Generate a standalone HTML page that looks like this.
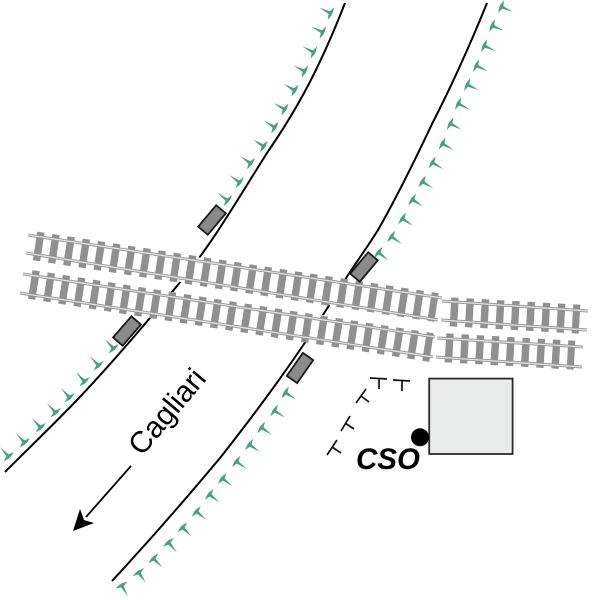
<!DOCTYPE html>
<html><head><meta charset="utf-8"><style>html,body{margin:0;padding:0;background:#fff}svg{display:block}</style></head><body>
<svg xmlns="http://www.w3.org/2000/svg" width="600" height="600" viewBox="0 0 600 600">
<defs><path id="t" fill="#46a283" d="M1,-7L2.4,-1.4L2.4,1.4L1,7L-0.8,1.5L-12,0L-0.8,-1.5Z"/></defs>
<rect width="600" height="600" fill="#fff"/>
<g fill="none" stroke="#000" stroke-width="2">
<path d="M345 3C322 62 300 105 269 150C240 195 215 240 182 280C150 318 115 360 78 399C55 423 30 447 5 472"/>
<path d="M487 3C470 45 452 85 432 124C415 160 398 195 378 230C368 246 358 260 348 275C335 296 320 320 308 338C280 380 250 420 220 458C185 500 150 540 112 581"/>
</g>
<g stroke="#fff" stroke-width="27" fill="none">
<line x1="35" y1="246" x2="440" y2="308"/>
<line x1="30" y1="284" x2="435" y2="346"/>
</g>
<g stroke="#909090" stroke-width="29" stroke-dasharray="7.4 7.95" fill="none">
<line x1="35.04" y1="245.97" x2="436.46" y2="307.53"/>
<line x1="30.24" y1="284.46" x2="431.46" y2="347.54"/>
<line x1="450.5" y1="311.8" x2="579.5" y2="319.2" stroke-dasharray="7.4 7.87"/>
<line x1="445.5" y1="347.8" x2="574.5" y2="355.2" stroke-dasharray="7.4 7.87"/>
</g>
<g stroke="#939393" stroke-width="3" fill="none">
<path d="M28 235L442 298M26 253L438 320M23 274L435 337M20 293L433 357M442 301L588 311M441 320L587 330M437 338L583 347M436 357L582 367"/>
</g>
<g stroke="#e2e2e2" stroke-width="1.3" fill="none">
<path d="M28 235L442 298M26 253L438 320M23 274L435 337M20 293L433 357M442 301L588 311M441 320L587 330M437 338L583 347M436 357L582 367"/>
</g>
<g fill="#8a8a8a" stroke="#1a1a1a" stroke-width="1.8">
<rect x="-14" y="-6.3" width="28" height="12.6" transform="translate(212 220) rotate(-50)"/>
<rect x="-14" y="-6.3" width="28" height="12.6" transform="translate(364 267) rotate(-50)"/>
<rect x="-14" y="-6.3" width="28" height="12.6" transform="translate(127 331) rotate(-49)"/>
<rect x="-14" y="-6.3" width="28" height="12.6" transform="translate(300 368) rotate(-55)"/>
</g>
<use href="#t" transform="translate(330 13) rotate(27)"/>
<use href="#t" transform="translate(322 32) rotate(27)"/>
<use href="#t" transform="translate(313 52) rotate(28)"/>
<use href="#t" transform="translate(304 71) rotate(28)"/>
<use href="#t" transform="translate(294 90) rotate(30)"/>
<use href="#t" transform="translate(284 109) rotate(30)"/>
<use href="#t" transform="translate(274 127) rotate(32)"/>
<use href="#t" transform="translate(263 146) rotate(33)"/>
<use href="#t" transform="translate(250 163) rotate(35)"/>
<use href="#t" transform="translate(239 182) rotate(36)"/>
<use href="#t" transform="translate(227 200) rotate(37)"/>
<use href="#t" transform="translate(113 348) rotate(48)"/>
<use href="#t" transform="translate(98 365) rotate(48)"/>
<use href="#t" transform="translate(84 381) rotate(48)"/>
<use href="#t" transform="translate(69 397) rotate(48)"/>
<use href="#t" transform="translate(55 412) rotate(48)"/>
<use href="#t" transform="translate(40 427) rotate(48)"/>
<use href="#t" transform="translate(24 442) rotate(48)"/>
<use href="#t" transform="translate(8 456) rotate(48)"/>
<use href="#t" transform="translate(502 7) rotate(204)"/>
<use href="#t" transform="translate(493 26) rotate(204)"/>
<use href="#t" transform="translate(485 46) rotate(205)"/>
<use href="#t" transform="translate(477 66) rotate(205)"/>
<use href="#t" transform="translate(468 85) rotate(206)"/>
<use href="#t" transform="translate(459 104) rotate(207)"/>
<use href="#t" transform="translate(451 124) rotate(208)"/>
<use href="#t" transform="translate(443 144) rotate(209)"/>
<use href="#t" transform="translate(433 163) rotate(210)"/>
<use href="#t" transform="translate(423 182) rotate(212)"/>
<use href="#t" transform="translate(413 200) rotate(213)"/>
<use href="#t" transform="translate(403 219) rotate(214)"/>
<use href="#t" transform="translate(392 237) rotate(215)"/>
<use href="#t" transform="translate(379 253) rotate(218)"/>
<use href="#t" transform="translate(286 393) rotate(212)"/>
<use href="#t" transform="translate(275 411) rotate(213)"/>
<use href="#t" transform="translate(262 428) rotate(214)"/>
<use href="#t" transform="translate(250 445) rotate(215)"/>
<use href="#t" transform="translate(237 462) rotate(216)"/>
<use href="#t" transform="translate(223 479) rotate(217)"/>
<use href="#t" transform="translate(210 495) rotate(218)"/>
<use href="#t" transform="translate(197 512) rotate(220)"/>
<use href="#t" transform="translate(183 528) rotate(225)"/>
<use href="#t" transform="translate(169 543) rotate(230)"/>
<use href="#t" transform="translate(154 559) rotate(225)"/>
<use href="#t" transform="translate(139 573) rotate(235)"/>
<use href="#t" transform="translate(122 586) rotate(240)"/>
<g stroke="#111" stroke-width="1.7" fill="none">
<path d="M370 378L387 379M379 379L379 389M393 380L410 381M402 381L402 391M356 403L366 389M361 396L369 402M341 431L350 416M345 423L354 429M327 455L337 440M332 447L341 453"/>
</g>
<rect x="429.2" y="378.6" width="83.4" height="75.4" fill="#e9ebea" stroke="#2b2b2b" stroke-width="1.8"/>
<circle cx="420" cy="437.3" r="9" fill="#000"/>
<text x="356" y="469" font-family="'Liberation Sans',sans-serif" font-size="29.5" font-weight="bold" font-style="italic" fill="#000">CSO</text>
<text transform="translate(142 457) rotate(-50)" font-family="'Liberation Sans',sans-serif" font-size="30" fill="#000">Cagliari</text>
<line x1="131" y1="466" x2="86" y2="517" stroke="#000" stroke-width="1.8"/>
<path d="M73 531L80 509L84 520L94 523Z" fill="#000"/>
</svg>
</body></html>
